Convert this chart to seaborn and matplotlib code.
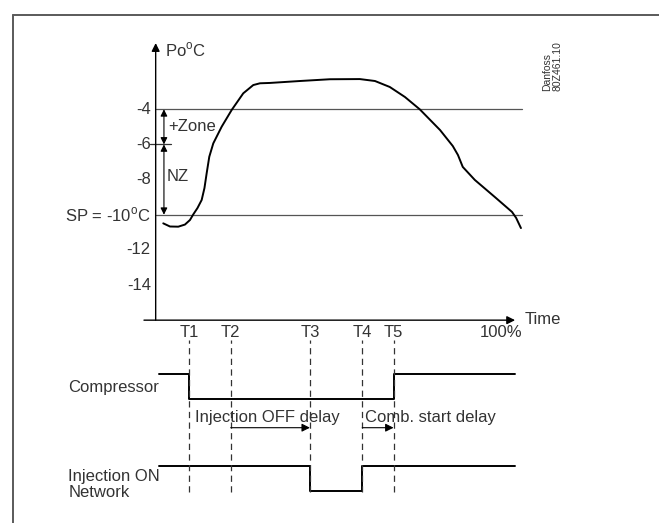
import matplotlib
matplotlib.use("Agg")
import matplotlib.pyplot as plt
import seaborn as sns
import pandas as pd
from matplotlib.lines import Line2D

# ---------------- data ----------------
# Evaporating pressure curve (time in %, Po in degC)
curve_t = [2.2, 4.15, 6.56, 8.5, 9.96, 10.92, 12.14, 13.36, 14.17, 14.81, 15.57,
           16.73, 19.17, 22.07, 25.44, 28.35, 30.29, 33.2, 41.9, 50.6, 59.3, 63.7,
           68.0, 72.4, 76.7, 82.6, 86.3, 87.8, 89.2, 92.7, 98.5, 103.5, 104.7, 106.1]
curve_po = [-10.49, -10.67, -10.68, -10.56, -10.3, -9.98, -9.62, -9.16, -8.48, -7.64,
            -6.7, -5.94, -4.99, -4.04, -3.09, -2.62, -2.52, -2.5, -2.39, -2.29, -2.28,
            -2.39, -2.73, -3.3, -4.0, -5.18, -6.09, -6.6, -7.28, -8.02, -8.99, -9.84,
            -10.18, -10.76]

ytick_vals = [-4, -6, -8, -10, -12, -14]
ytick_labels = ["-4", "-6", "-8", "SP = -10$^{\\mathregular{o}}$C", "-12", "-14"]
zone_upper = -4
zone_mid = -6
setpoint = -10

t_names = ["T1", "T2", "T3", "T4", "T5"]
t_vals = [9.8, 21.8, 44.8, 60.0, 69.1]

# Digital signals (1 = ON, 0 = OFF)
comp_t = [1.0, 9.8, 69.1, 104.4]
comp_state = [1, 0, 1, 1]
inj_t = [1.0, 44.8, 60.0, 104.4]
inj_state = [1, 0, 1, 1]

# ---------------- style ----------------
sns.set_theme(style="white")
plt.rcParams["font.family"] = ["Liberation Sans", "DejaVu Sans"]
plt.rcParams["mathtext.fontset"] = "custom"
plt.rcParams["mathtext.rm"] = "Liberation Sans"
TXT = "#333333"
FS = 12

fig = plt.figure(figsize=(6.59, 5.23), dpi=100)
ax = fig.add_axes([0, 193 / 523, 1, 330 / 523])
axb = fig.add_axes([0, 0, 1, 193 / 523])
XL = (-45.22, 146.2)

# frame
fig.add_artist(Line2D([0.0202, 0.0202], [0.9713, 0.0], transform=fig.transFigure,
                      color="#5a5a5a", lw=1.4))
fig.add_artist(Line2D([0.0202, 1.0], [0.9713, 0.9713], transform=fig.transFigure,
                      color="#5a5a5a", lw=1.4))

# ---------------- top chart ----------------
x_end = 106.3
ax.plot([0, x_end], [zone_upper, zone_upper], color="#555555", lw=0.9)
ax.plot([0, x_end], [setpoint, setpoint], color="#555555", lw=0.9)
ax.plot([-1.65, 4.4], [zone_mid, zone_mid], color="#333333", lw=0.9)

df = pd.DataFrame({"t": curve_t, "po": curve_po})
sns.lineplot(data=df, x="t", y="po", ax=ax, color="black", lw=1.4,
             estimator=None, sort=False)
ax.set_xlim(*XL)
ax.set_ylim(-16.56, 2.22)
ax.axis("off")

ap = dict(arrowstyle="-|>", color="black", lw=1.0, mutation_scale=12,
          shrinkA=0, shrinkB=0)
ax.annotate("", xy=(0, -0.23), xytext=(0, -16), arrowprops=ap)
ax.annotate("", xy=(104.4, -16), xytext=(-3.4, -16), arrowprops=ap)

ap2 = dict(arrowstyle="<|-|>", color="black", lw=0.8, mutation_scale=10,
           shrinkA=0, shrinkB=0)
ax.annotate("", xy=(2.4, zone_upper), xytext=(2.4, zone_mid), arrowprops=ap2)
ax.annotate("", xy=(2.4, zone_mid), xytext=(2.4, setpoint), arrowprops=ap2)
ax.text(3.6, -5.0, "+Zone", fontsize=FS, color=TXT, va="center", ha="left")
ax.text(3.2, -7.84, "NZ", fontsize=FS, color=TXT, va="center", ha="left")

for v, lab in zip(ytick_vals, ytick_labels):
    ax.text(-1.4, v, lab, fontsize=FS, color=TXT, ha="right", va="center")

ax.text(2.7, -0.63, "Po$^{\\mathregular{o}}$C", fontsize=FS, color=TXT,
        ha="left", va="center")
ax.text(107.3, -15.95, "Time", fontsize=FS, color=TXT, ha="left", va="center")

ax.text(113.6, -2.96, "Danfoss", fontsize=7.5, color=TXT, rotation=90,
        ha="center", va="bottom")
ax.text(116.6, -2.96, "80Z461.10", fontsize=7.5, color=TXT, rotation=90,
        ha="center", va="bottom")

# ---------------- timing diagram ----------------
comp_base = 3.66
inj_base = 0.0
dfc = pd.DataFrame({"t": comp_t, "y": [comp_base + s for s in comp_state]})
dfi = pd.DataFrame({"t": inj_t, "y": [inj_base + s for s in inj_state]})
sns.lineplot(data=dfc, x="t", y="y", ax=axb, color="black", lw=1.4,
             drawstyle="steps-post", estimator=None, sort=False)
sns.lineplot(data=dfi, x="t", y="y", ax=axb, color="black", lw=1.4,
             drawstyle="steps-post", estimator=None, sort=False)
axb.set_xlim(*XL)
axb.set_ylim(-1.292, 6.428)
axb.axis("off")

for tn, tv in zip(t_names, t_vals):
    axb.plot([tv, tv], [-0.04, 6.03], color="#333333", lw=0.9, ls=(0, (5, 3.5)))
    axb.text(tv, 6.31, tn, fontsize=FS, color=TXT, ha="center", va="center")
axb.text(100.2, 6.31, "100%", fontsize=FS, color=TXT, ha="center", va="center")

axb.text(-25.4, 4.12, "Compressor", fontsize=FS, color=TXT, ha="left", va="center")
axb.text(-25.4, 0.56, "Injection ON", fontsize=FS, color=TXT, ha="left", va="center")
axb.text(-25.4, -0.08, "Network", fontsize=FS, color=TXT, ha="left", va="center")

ap3 = dict(arrowstyle="-|>", color="black", lw=0.8, mutation_scale=12,
           shrinkA=0, shrinkB=0)
axb.annotate("", xy=(t_vals[2], 2.52), xytext=(t_vals[1], 2.52), arrowprops=ap3)
axb.annotate("", xy=(t_vals[4], 2.52), xytext=(t_vals[3], 2.52), arrowprops=ap3)
axb.text(11.4, 2.91, "Injection OFF delay", fontsize=FS, color=TXT,
         ha="left", va="center")
axb.text(60.8, 2.91, "Comb. start delay", fontsize=FS, color=TXT,
         ha="left", va="center")

fig.savefig("out.png", dpi=100)
